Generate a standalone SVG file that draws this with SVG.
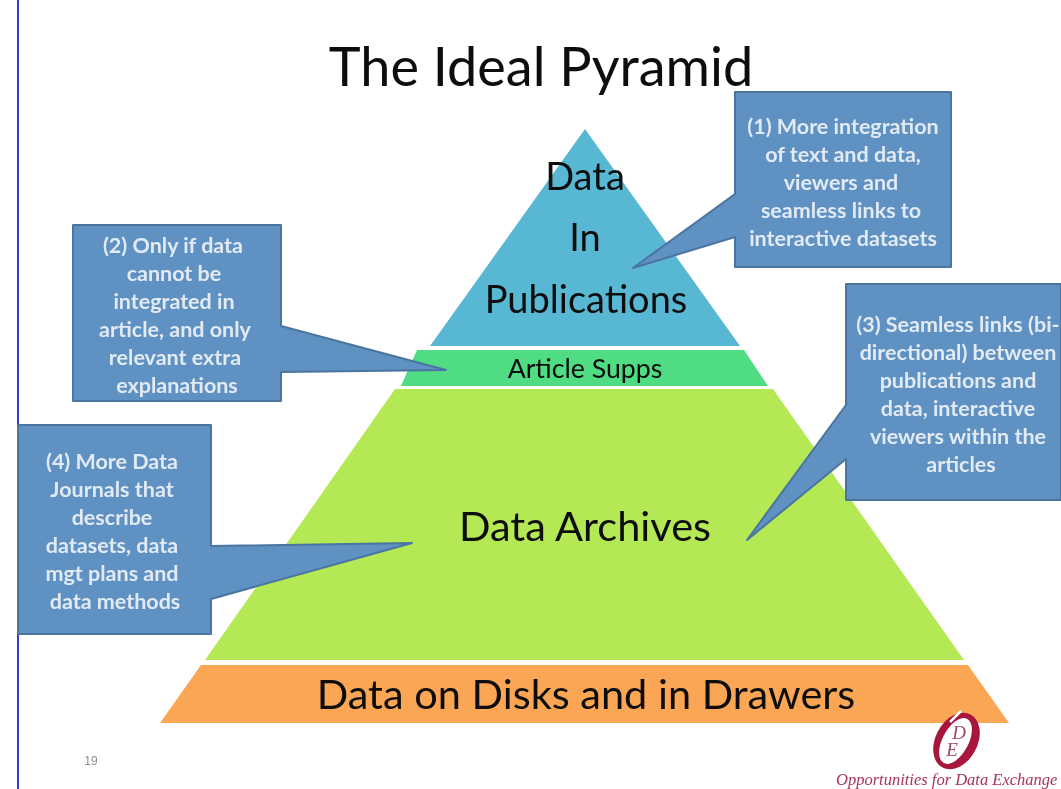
<svg xmlns="http://www.w3.org/2000/svg" width="1061" height="789" viewBox="0 0 1061 789">
<style>
.t{font-family:"Lato","Open Sans","DejaVu Sans",sans-serif;fill:#0d0d0d;text-anchor:middle}
.c{font-family:"Lato","Open Sans","DejaVu Sans",sans-serif;font-size:21.5px;font-weight:700;fill:#e2eaf3;text-anchor:middle}
.b{fill:#5f92c3;stroke:#4a74a0;stroke-width:2;stroke-linejoin:round}
.l{font-family:"Liberation Serif",serif;font-style:italic;fill:#a04a68;text-anchor:middle}
</style>
<defs><filter id="soft" x="0" y="0" width="100%" height="100%"><feGaussianBlur stdDeviation="0.6"/></filter></defs>
<rect width="1061" height="789" fill="#fff"/>
<g filter="url(#soft)">
<rect x="17" y="0" width="2" height="789" fill="#3c3cc8"/>
<text class="t" x="541" y="86" font-size="54">The Ideal Pyramid</text>
<g id="node-publications"><polygon points="585,129 740,346 430,346" fill="#58b8d4"/>
<text class="t" x="585" y="190" font-size="38">Data</text><text class="t" x="585" y="251" font-size="38">In</text><text class="t" x="586" y="313" font-size="38">Publications</text></g>
<g id="node-supps"><polygon points="417,350 744,350 768,386 401,386" fill="#50dc82"/>
<text class="t" x="585" y="378" font-size="26.7">Article Supps</text></g>
<g id="node-archives"><polygon points="395,389 773,389 964,660 205,660" fill="#b5e855"/>
<text class="t" x="585" y="541" font-size="41.5">Data Archives</text></g>
<g id="node-disks"><polygon points="201,665 968,665 1009,723 160,723" fill="#fba655"/>
<text class="t" x="586" y="709" font-size="41.5">Data on Disks and in Drawers</text></g>
<g id="connectors"></g>
<g id="callout-1"><polygon class="b" points="735,92 951,92 951,267 735,267 735,237 633,268 735,194"/>
<text class="c" x="843" y="134">(1) More integration</text><text class="c" x="843" y="162">of text and data,</text><text class="c" x="841" y="190">viewers and</text><text class="c" x="841" y="218">seamless links to</text><text class="c" x="843" y="246">interactive datasets</text></g>
<g id="callout-2"><polygon class="b" points="73,225 281,225 281,326 446,370 281,372 281,401 73,401"/>
<text class="c" x="173" y="253">(2) Only if data</text><text class="c" x="174" y="281">cannot be</text><text class="c" x="174" y="309">integrated in</text><text class="c" x="175" y="337">article, and only</text><text class="c" x="175" y="365">relevant extra</text><text class="c" x="177" y="393">explanations</text></g>
<g id="callout-3"><polygon class="b" points="846,284 1061,284 1061,500 846,500 846,459 747,540 846,405"/>
<text class="c" x="958" y="332">(3) Seamless links (bi-</text><text class="c" x="958" y="360">directional) between</text><text class="c" x="958" y="388">publications and</text><text class="c" x="958" y="416">data, interactive</text><text class="c" x="958" y="444">viewers within the</text><text class="c" x="961" y="472">articles</text></g>
<g id="callout-4"><polygon class="b" points="18,425 211,425 211,546 412,543 211,599 211,634 18,634"/>
<text class="c" x="112" y="469">(4) More Data</text><text class="c" x="112" y="497">Journals that</text><text class="c" x="112" y="525">describe</text><text class="c" x="112" y="553">datasets, data</text><text class="c" x="112" y="581">mgt plans and</text><text class="c" x="115" y="609">data methods</text></g>
<text x="91" y="765" font-family="Liberation Sans,sans-serif" font-size="12" fill="#8f8f8f" text-anchor="middle">19</text>
<g id="logo">
<ellipse cx="956.5" cy="741" rx="21" ry="30" transform="rotate(28 956.5 741)" fill="#a8123c"/>
<ellipse cx="955.5" cy="741" rx="13" ry="25" transform="rotate(28 955.5 741)" fill="#fff"/>
<line x1="950" y1="722" x2="961" y2="711" stroke="#fff" stroke-width="2.5"/>
<text class="l" x="959" y="739" font-size="19">D</text>
<text class="l" x="952" y="756" font-size="19">E</text>
<text x="836" y="785" font-family="Liberation Serif,serif" font-style="italic" font-size="16.5" fill="#a8325c">Opportunities for Data Exchange</text>
</g>
</g>
</svg>
